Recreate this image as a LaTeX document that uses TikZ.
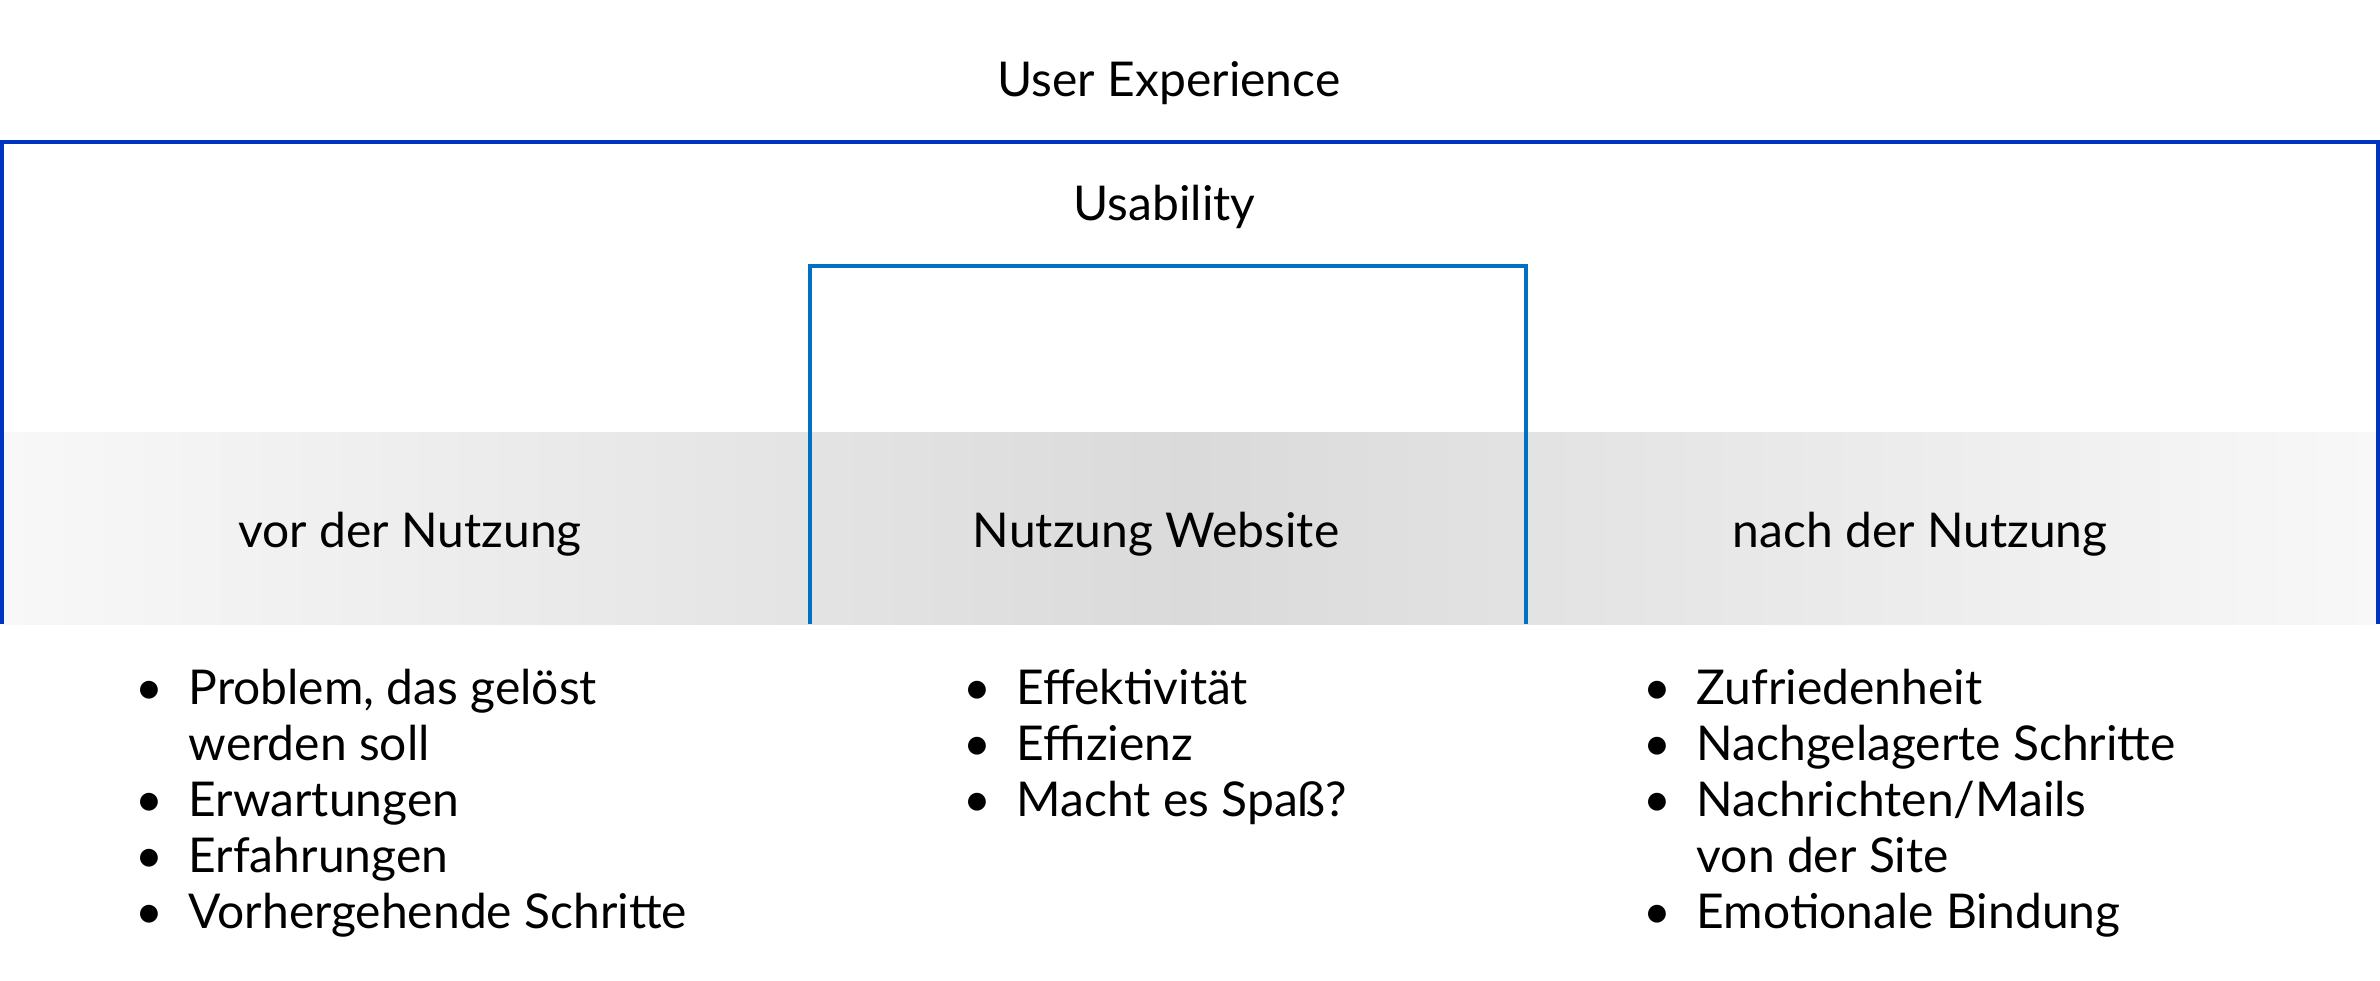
\documentclass[tikz,border=0pt]{standalone}
\usepackage{fontspec}
\setmainfont{Lato}
\definecolor{uxblue}{HTML}{0033BF}
\definecolor{usblue}{HTML}{0070C0}
\definecolor{bandlight}{HTML}{F8F8F8}
\definecolor{bandmid}{HTML}{DADADA}
\newcommand{\itm}{\llap{\textbullet\hspace{2.5mm}}}
\tikzset{
  heading/.style={anchor=base, inner sep=0, font=\fontsize{13.65pt}{15.9pt}\selectfont},
  itemlist/.style={anchor=base west, inner sep=0, align=left, font=\fontsize{13.65pt}{15.9pt}\selectfont},
}
\begin{document}
\begin{tikzpicture}[x=0.1mm,y=-0.1mm]
\useasboundingbox (0,0) rectangle (2380,980);
% grey band behind the three phases
\shade[left color=bandlight, right color=bandlight, middle color=bandmid] (4,432) rectangle (2376,624);
% frames
\draw[uxblue, line width=0.4mm] (2,624) -- (2,141.5) -- (2378,141.5) -- (2378,624);
\draw[usblue, line width=0.4mm] (809.5,624) -- (809.5,266) -- (1526,266) -- (1526,624);

\node[heading] (ux) at (1169,96) {User Experience};
\node[heading] (usab) at (1164.5,220) {Usability};

\node[heading] (vor) at (410,547) {vor der Nutzung};
\node[heading] (web) at (1156,547) {Nutzung Website};
\node[heading] (nach) at (1920,547) {nach der Nutzung};

% lists, placed by the baseline of their last line
\node[itemlist] (vorlist) at (188,928) {\itm Problem, das gelöst\\ werden soll\\ \itm Erwartungen\\ \itm Erfahrungen\\ \itm Vorhergehende Schritte};
\node[itemlist] (weblist) at (1016,816) {\itm Effektivität\\ \itm Effizienz\\ \itm Macht es Spaß?};
\node[itemlist] (nachlist) at (1696,928) {\itm Zufriedenheit\\ \itm Nachgelagerte Schritte\\ \itm Nachrichten/Mails\\ von der Site\\ \itm Emotionale Bindung};
\end{tikzpicture}
\end{document}
